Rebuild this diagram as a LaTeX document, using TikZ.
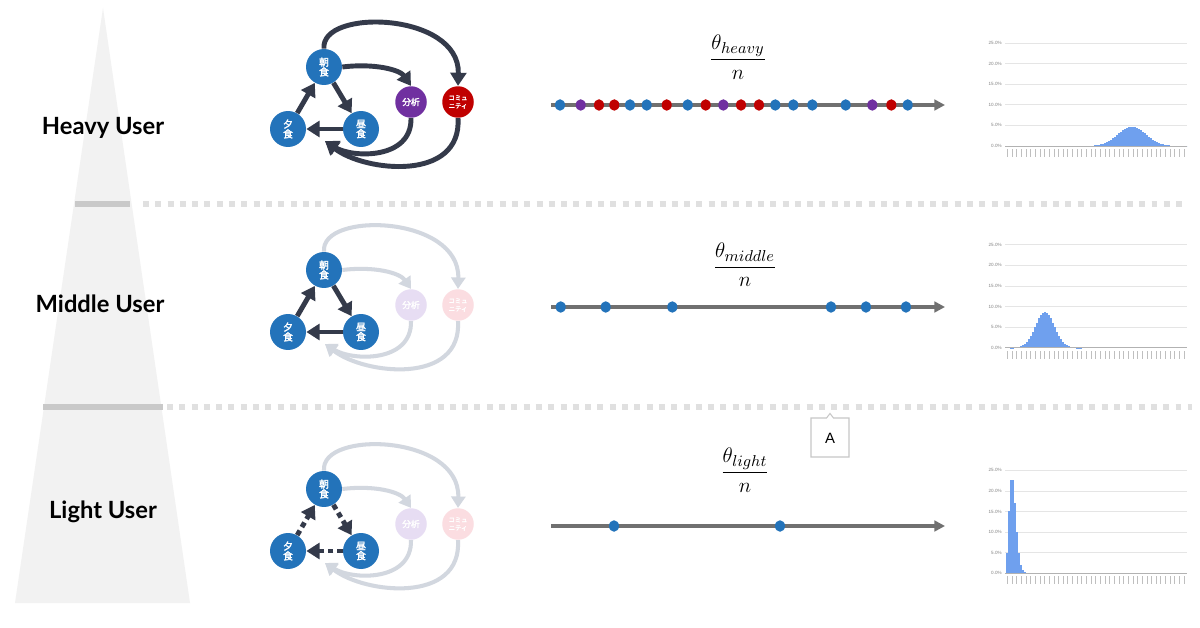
\documentclass[tikz,border=0pt]{standalone}
\usepackage{amsmath}
\usepackage{fontspec}
\setmainfont{Lato}
\newfontfamily\cjk[AutoFakeBold=2.5]{Noto Sans CJK JP}
\newfontfamily\uisans{Liberation Sans}
\usetikzlibrary{arrows.meta,shapes.geometric}
\definecolor{mblue}{HTML}{2373BA}
\definecolor{darka}{HTML}{343A4A}
\definecolor{fadea}{HTML}{D2D7DF}
\definecolor{mpurple}{HTML}{7030A0}
\definecolor{mred}{HTML}{C00000}
\definecolor{fpurple}{HTML}{E7DDF3}
\definecolor{fred}{HTML}{FBDDE1}
\definecolor{pyr}{HTML}{F2F2F2}
\definecolor{barc}{HTML}{6FA0EE}
\definecolor{nline}{HTML}{707070}
\newcommand\mealrow[5]{%
 % #1 prefix, #2 y shift, #3 triangle style, #4 outer style, #5 faded?
 \begin{scope}[shift={(0,#2)}]
  \node[meal] (#1a) at (324,67) {朝\\[-1pt]食};
  \node[meal] (#1y) at (288,129) {夕\\[-1pt]食};
  \node[meal] (#1h) at (361,129) {昼\\[-1pt]食};
  \ifnum#5=0
   \node[small, fill=mpurple] (#1b) at (411,102) {分析};
   \node[small, fill=mred, font=\cjk\bfseries\fontsize{3.6}{4.6}\selectfont] (#1c) at (458,102) {コミュ\\ニティ};
  \else
   \node[small, fill=fpurple] (#1b) at (411,102) {分析};
   \node[small, fill=fred, font=\cjk\bfseries\fontsize{3.6}{4.6}\selectfont] (#1c) at (458,102) {コミュ\\ニティ};
  \fi
  \coordinate (#1t) at (325,141);
  \draw[#3] (#1y) -- (#1a);
  \draw[#3] (#1a) -- (#1h);
  \draw[#3] (#1h) -- (#1y);
  \draw[#4] (#1a.east) .. controls (375,63) and (400,70) .. (#1b.north);
  \draw[#4] (#1a.north) .. controls (320,8) and (460,12) .. (#1c.north);
  \draw[#4] (#1b.south) .. controls (412,160) and (352,158) .. (#1t);
  \draw[#4] (#1c.south) .. controls (462,182) and (365,172) .. (#1t);
 \end{scope}}
\newcommand\chartgrid[2]{%
 % #1 prefix, #2 zero line y
 \foreach \k/\lab in {1/5.0,2/10.0,3/15.0,4/20.0,5/25.0} {
  \draw[gridl] (1005,#2-\k*20.6) -- (1187,#2-\k*20.6);
  \node[axlab] (#1l\k) at (1002,#2-\k*20.6) {\lab\%};
 }
 \node[axlab] (#1l0) at (1002,#2) {0.0\%};
 \foreach \t in {0,...,38} \fill[tickc] (1007+\t*4.65,#2+3) rectangle ++(0.9,8);
}
\begin{document}
\begin{tikzpicture}[x=0.02cm,y=-0.02cm,
  meal/.style={circle, fill=mblue, minimum size=0.72cm, inner sep=0pt, text=white,
    font=\cjk\bfseries\fontsize{5.6}{6.6}\selectfont, align=center},
  small/.style={circle, minimum size=0.63cm, inner sep=0pt, text=white,
    font=\cjk\bfseries\fontsize{5}{6}\selectfont, align=center},
  tri/.style={draw=darka, line width=2.8pt, -{Triangle[width=9pt,length=7.5pt]}},
  tridash/.style={tri, dash pattern=on 3pt off 2.3pt},
  outer/.style={draw=darka, line width=2.8pt, -{Triangle[width=9pt,length=7.5pt]}},
  fouter/.style={draw=fadea, line width=2.3pt, -{Triangle[width=8pt,length=6.5pt]}},
  label/.style={font=\bfseries\fontsize{13.5}{15}\selectfont, text=black},
  numline/.style={draw=nline, line width=1.8pt, -{Triangle[width=6pt,length=6pt]}},
  dot/.style={ellipse, minimum width=0.2cm, minimum height=0.23cm, inner sep=0pt},
  frac/.style={font=\fontsize{13}{15}\selectfont},
  sepbar/.style={draw=black!21, line width=3.4pt},
  sepdot/.style={draw=black!12, line width=3.4pt, dash pattern=on 3.4pt off 3.6pt},
  gridl/.style={draw=black!10, line width=0.4pt},
  axlab/.style={anchor=east, inner sep=0pt, text=black!50, font=\uisans\fontsize{2.6}{3}\selectfont},
  tickc/.style={fill=black!25},
  bar/.style={fill=barc}
]
\useasboundingbox (0,0) rectangle (1200,628);
\fill[white] (0,0) rectangle (1200,628);
% pyramid
\fill[pyr] (103,8) -- (190,603) -- (15,603) -- cycle;
% separators
\draw[sepbar] (75,204) -- (130,204);
\draw[sepdot] (143,204) -- (1186,204);
\draw[sepbar] (43,407) -- (163,407);
\draw[sepdot] (167,407) -- (1192,407);
% labels
\node[label] (lh) at (103,128) {Heavy User};
\node[label] (lm) at (100,304) {Middle User};
\node[label] (ll) at (103,512) {Light User};
% graphs
\mealrow{h}{0}{tri}{outer}{0}
\mealrow{m}{203}{tri}{fouter}{1}
\mealrow{l}{422}{tridash}{fouter}{1}
% fractions
\node[frac] (fh) at (738,57) {$\dfrac{\theta_{heavy}}{n}$};
\node[frac] (fm) at (745,265) {$\dfrac{\theta_{middle}}{n}$};
\node[frac] (fl) at (745,470) {$\dfrac{\theta_{light}}{n}$};
% number lines
\coordinate (h0) at (551,105); \coordinate (h1) at (945,105);
\draw[numline] (h0) -- (h1);
\foreach \x/\c [count=\i] in {560/mblue,580.7/mpurple,599/mred,614.3/mred,630/mblue,646.7/mblue,666.7/mred,687.7/mblue,705.7/mred,723.3/mpurple,741/mred,759/mred,775.3/mblue,793.3/mblue,812.3/mblue,845.7/mblue,872.3/mpurple,891.3/mred,907.7/mblue}
  \node[dot, fill=\c] (hd\i) at (\x,105) {};
\coordinate (m0) at (551,307); \coordinate (m1) at (945,307);
\draw[numline] (m0) -- (m1);
\foreach \x [count=\i] in {560.7,605.7,672.3,831,866,906}
  \node[dot, fill=mblue] (md\i) at (\x,307) {};
\coordinate (l0) at (551,526); \coordinate (l1) at (945,526);
\draw[numline] (l0) -- (l1);
\foreach \x [count=\i] in {614,780}
  \node[dot, fill=mblue] (ld\i) at (\x,526) {};
% callout A
\draw[draw=black!22, fill=white, line width=0.6pt] (811,418) -- (826.5,418) -- (830,413.5) -- (833.5,418) -- (849,418) -- (849,457) -- (811,457) -- cycle;
\node[font=\uisans\fontsize{8.5}{10}\selectfont] (ca) at (830,438) {A};
% charts
\chartgrid{ch}{146}
\foreach \xx in {1070,1072,...,1186} {
  \pgfmathsetmacro\hh{4.7*4.12*exp(-((\xx-1131)/14)^2/2)}
  \fill[bar] (\xx,146) rectangle ++(1.6,-\hh);
}
\draw[black!30, line width=0.5pt] (1005,146) -- (1187,146);
\chartgrid{cm}{347.7}
\foreach \xx in {1010,1012,...,1080} {
  \pgfmathsetmacro\hh{8.7*4.1*exp(-((\xx-1044)/9.5)^2/2)}
  \fill[bar] (\xx,347.7) rectangle ++(1.6,-\hh);
}
\draw[black!30, line width=0.5pt] (1005,347.7) -- (1187,347.7);
\chartgrid{cl}{573.3}
\foreach \xx/\v in {1006/5,1008/15,1010/22.5,1012/22.5,1014/17,1016/10,1018/5,1020/2,1022/0.8,1024/0.2} {
  \fill[bar] (\xx,573.3) rectangle ++(1.7,-\v*4.14);
}
\draw[black!30, line width=0.5pt] (1005,573.3) -- (1187,573.3);
\end{tikzpicture}
\end{document}
